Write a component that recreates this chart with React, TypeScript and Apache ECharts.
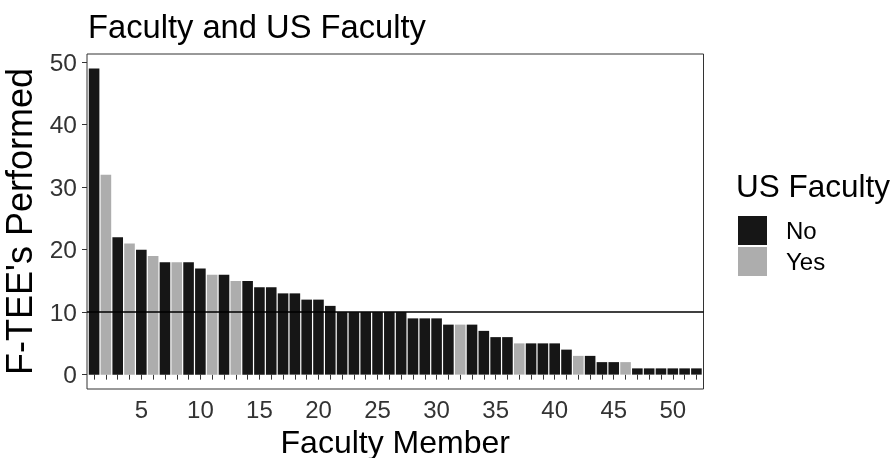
import React, { useEffect, useRef } from "react";
import * as echarts from "echarts";

const fteeValues = [
  49, 32, 22, 21, 20, 19, 18, 18, 18, 17, 16, 16, 15, 15, 14, 14, 13, 13, 12, 12,
  11, 10, 10, 10, 10, 10, 10, 9, 9, 9, 8, 8, 8, 7, 6, 6, 5, 5, 5, 5,
  4, 3, 3, 2, 2, 2, 1, 1, 1, 1, 1, 1,
];
const usFaculty = [
  "No", "Yes", "No", "Yes", "No", "Yes", "No", "Yes", "No", "No",
  "Yes", "No", "Yes", "No", "No", "No", "No", "No", "No", "No",
  "No", "No", "No", "No", "No", "No", "No", "No", "No", "No",
  "No", "Yes", "No", "No", "No", "No", "Yes", "No", "No", "No",
  "No", "Yes", "No", "No", "No", "Yes", "No", "No", "No", "No",
  "No", "No",
];
const groups = ["No", "Yes"];
const groupColors = { No: "#161616", Yes: "#adadad" };
const xTickLabels = [5, 10, 15, 20, 25, 30, 35, 40, 45, 50];
const yTickLabels = [0, 10, 20, 30, 40, 50];
const referenceLine = 10;

const FONT = "Liberation Sans, Arial, Helvetica, sans-serif";

export default function App() {
  const ref = useRef<HTMLDivElement>(null);
  useEffect(() => {
    if (!ref.current) return;
    const chart = echarts.init(ref.current, null, { renderer: "svg" });
    const members = fteeValues.map((_, i) => i + 1);
    const series = groups.map((g, gi) => ({
      name: g,
      type: "bar",
      barWidth: 10.6,
      barGap: "-100%",
      itemStyle: { color: (groupColors as any)[g] },
      data: fteeValues
        .map((v, i) => (usFaculty[i] === g ? [members[i], v] : null))
        .filter((d) => d !== null),
      markLine:
        gi === 0
          ? {
              silent: true,
              symbol: "none",
              label: { show: false },
              lineStyle: { color: "#000", width: 1.6, type: "solid" },
              data: [{ yAxis: referenceLine }],
            }
          : undefined,
      z: 2,
    }));

    chart.setOption({
      animation: false,
      textStyle: { fontFamily: FONT },
      title: [
        {
          text: "Faculty and US Faculty",
          left: 83,
          top: 5,
          textStyle: { fontSize: 32.7, fontWeight: "normal", color: "#000", fontFamily: FONT },
        },
        {
          text: "US Faculty",
          left: 731,
          top: 165,
          textStyle: { fontSize: 31.5, fontWeight: "normal", color: "#000", fontFamily: FONT },
        },
      ],
      legend: {
        data: groups,
        orient: "vertical",
        left: 738,
        top: 216,
        padding: 0,
        itemWidth: 29,
        itemHeight: 29,
        itemGap: 2,
        icon: "rect",
        textStyle: { fontSize: 24, color: "#000", fontFamily: FONT, padding: [0, 0, 0, 14] },
      },
      grid: {
        left: 87,
        right: 192.5,
        top: 54,
        bottom: 69,
        outerBoundsMode: "none",
        containLabel: false,
        show: true,
        borderColor: "#333",
        borderWidth: 1,
        backgroundColor: "transparent",
      },
      xAxis: {
        type: "value",
        min: 0.4,
        max: 52.6,
        name: "Faculty Member",
        nameLocation: "middle",
        nameGap: 35,
        nameTextStyle: { fontSize: 32, color: "#000", fontFamily: FONT },
        splitLine: { show: false },
        axisLine: { show: false },
        axisTick: { show: true, length: 5, customValues: members, lineStyle: { color: "#333" } },
        axisLabel: {
          customValues: xTickLabels,
          fontSize: 24,
          color: "#333",
          margin: 8,
          fontFamily: FONT,
        },
      },
      yAxis: {
        type: "value",
        min: -2.3,
        max: 51.3,
        name: "F-TEE's Performed",
        nameLocation: "middle",
        nameGap: 50,
        nameTextStyle: { fontSize: 36, color: "#000", fontFamily: FONT },
        splitLine: { show: false },
        axisLine: { show: false },
        axisTick: { show: true, length: 5, customValues: yTickLabels, lineStyle: { color: "#333" } },
        axisLabel: {
          customValues: yTickLabels,
          fontSize: 24.5,
          color: "#333",
          margin: 10,
          fontFamily: FONT,
        },
      },
      series,
    });
    return () => chart.dispose();
  }, []);
  return (
    <div
      ref={ref}
      style={{ position: "fixed", left: 0, top: 0, width: 896, height: 458 }}
    />
  );
}
